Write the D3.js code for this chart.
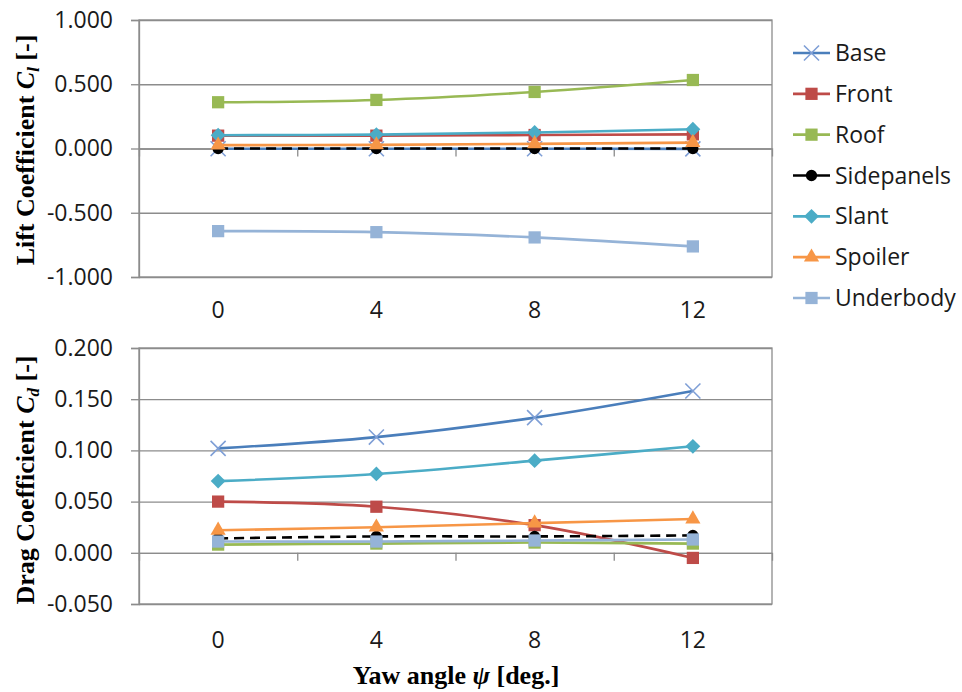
<!DOCTYPE html>
<html>
<head>
<meta charset="utf-8">
<script src="https://cdn.jsdelivr.net/npm/d3@7"></script>
<style>
  body { margin: 0; background: #fff; }
  text { font-family: "Open Sans", "Liberation Sans", sans-serif; }
  .title { font-family: "Liberation Serif", "DejaVu Serif", serif; font-weight: bold; }
</style>
</head>
<body>
<div id="wrapper"></div>
<script>
// yaw angles (categories)
const yawLabels = ["0", "4", "8", "12"];
const seriesNames = ["Base", "Front", "Roof", "Sidepanels", "Slant", "Spoiler", "Underbody"];

// lift coefficient per series
const liftBase = [-0.002, -0.002, -0.002, -0.003];
const liftFront = [0.100, 0.100, 0.105, 0.110];
const liftRoof = [0.360, 0.378, 0.440, 0.533];
const liftSidepanels = [0.000, 0.000, 0.000, 0.000];
const liftSlant = [0.103, 0.108, 0.125, 0.150];
const liftSpoiler = [0.026, 0.028, 0.036, 0.046];
const liftUnderbody = [-0.643, -0.651, -0.692, -0.762];

// drag coefficient per series
const dragBase = [0.102, 0.113, 0.132, 0.158];
const dragFront = [0.050, 0.045, 0.027, -0.005];
const dragRoof = [0.008, 0.009, 0.010, 0.009];
const dragSidepanels = [0.014, 0.016, 0.016, 0.017];
const dragSlant = [0.070, 0.077, 0.090, 0.104];
const dragSpoiler = [0.022, 0.025, 0.029, 0.033];
const dragUnderbody = [0.011, 0.011, 0.012, 0.013];

// y tick values
const liftTicks = [-1, -0.5, 0, 0.5, 1];
const dragTicks = [-0.05, 0, 0.05, 0.1, 0.15, 0.2];

const styles = {
    Base:       { line: "#4A7EBB", marker: "#7F9FD6", shape: "x" },
    Front:      { line: "#BE4B48", marker: "#BE4B48", shape: "square" },
    Roof:       { line: "#98B954", marker: "#98B954", shape: "square" },
    Sidepanels: { line: "#000000", marker: "#000000", shape: "circle", dash: "10,6" },
    Slant:      { line: "#4BACC6", marker: "#4BACC6", shape: "diamond" },
    Spoiler:    { line: "#F79646", marker: "#F79646", shape: "triangle" },
    Underbody:  { line: "#95B3D7", marker: "#95B3D7", shape: "square" },
};

const liftSeries = [liftBase, liftFront, liftRoof, liftSidepanels, liftSlant, liftSpoiler, liftUnderbody];
const dragSeries = [dragBase, dragFront, dragRoof, dragSidepanels, dragSlant, dragSpoiler, dragUnderbody];

const dimensions = { width: 962, height: 692, plotLeft: 139, plotRight: 772 };
const gridColor = "#8c8c8c";

const panels = [
    { series: liftSeries, ticks: liftTicks, domain: [-1, 1], top: 20, bottom: 277, labelPad: 25,
      titleMain: "Lift Coefficient ", titleSub: "l", titleY: 150 },
    { series: dragSeries, ticks: dragTicks, domain: [-0.05, 0.2], top: 348, bottom: 604, labelPad: 28,
      titleMain: "Drag Coefficient ", titleSub: "d", titleY: 480 },
];

const wrapper = d3.select("#wrapper")
    .append("svg")
    .attr("width", dimensions.width)
    .attr("height", dimensions.height);

wrapper.append("rect").attr("width", dimensions.width).attr("height", dimensions.height).attr("fill", "#fff");

const xScale = d3.scaleBand()
    .domain(yawLabels)
    .range([dimensions.plotLeft, dimensions.plotRight])
    .padding(0);
const xCenter = (i) => xScale(yawLabels[i]) + xScale.bandwidth() / 2;

function drawMarker(g, shape, x, y, color) {
    if (shape === "x") {
        g.append("path")
            .attr("d", d3.symbol(d3.symbolTimes, 150)())
            .attr("transform", `translate(${x},${y})`)
            .attr("fill", "none").attr("stroke", color).attr("stroke-width", 1.6);
        return;
    }
    let sym, size, rot = 0;
    if (shape === "square") { sym = d3.symbolSquare; size = 150; }
    if (shape === "circle") { sym = d3.symbolCircle; size = 100; }
    if (shape === "diamond") { sym = d3.symbolSquare; size = 110; rot = 45; }
    if (shape === "triangle") { sym = d3.symbolTriangle; size = 100; }
    g.append("path")
        .attr("d", d3.symbol(sym, size)())
        .attr("transform", `translate(${x},${y}) rotate(${rot})`)
        .attr("fill", color);
}

panels.forEach((p) => {
    const yScale = d3.scaleLinear().domain(p.domain).range([p.bottom, p.top]);
    const bounds = wrapper.append("g");
    const w = dimensions.plotRight - dimensions.plotLeft;

    // gridlines
    bounds.append("g")
        .attr("transform", `translate(${dimensions.plotLeft},0)`)
        .call(d3.axisLeft(yScale).tickValues(p.ticks).tickSize(-w).tickFormat(""))
        .call((g) => g.select(".domain").remove())
        .call((g) => g.selectAll("line").attr("stroke", gridColor).attr("stroke-width", 1.3));

    // plot border
    bounds.append("rect")
        .attr("x", dimensions.plotLeft).attr("y", p.top)
        .attr("width", w).attr("height", p.bottom - p.top)
        .attr("fill", "none").attr("stroke", gridColor).attr("stroke-width", 1.3);

    // y axis with outer ticks + labels
    const yAxis = bounds.append("g")
        .attr("transform", `translate(${dimensions.plotLeft},0)`)
        .call(d3.axisLeft(yScale).tickValues(p.ticks).tickSize(8).tickPadding(18)
            .tickFormat((d) => d.toFixed(3)));
    yAxis.select(".domain").attr("stroke", gridColor).attr("stroke-width", 1.3);
    yAxis.selectAll("line").attr("stroke", gridColor).attr("stroke-width", 1.3);
    yAxis.selectAll("text").attr("font-size", 23).attr("fill", "#1a1a1a")
        .attr("font-family", "'Open Sans', sans-serif");

    // category tick marks on zero line
    const boundaryScale = d3.scaleLinear().domain([0, yawLabels.length])
        .range([dimensions.plotLeft, dimensions.plotRight]);
    const zeroAxis = bounds.append("g")
        .attr("transform", `translate(0,${yScale(0)})`)
        .call(d3.axisBottom(boundaryScale).tickValues(d3.range(1, yawLabels.length)).tickSize(8).tickFormat(""));
    zeroAxis.select(".domain").attr("stroke", gridColor).attr("stroke-width", 1.3);
    zeroAxis.selectAll("line").attr("stroke", gridColor).attr("stroke-width", 1.3);

    // category labels under plot
    const xAxis = bounds.append("g")
        .attr("transform", `translate(0,${p.bottom})`)
        .call(d3.axisBottom(xScale).tickSize(0).tickPadding(p.labelPad));
    xAxis.select(".domain").remove();
    xAxis.selectAll("text").attr("font-size", 23).attr("fill", "#1a1a1a")
        .attr("font-family", "'Open Sans', sans-serif");

    // series
    const lineGenerator = d3.line()
        .x((d, i) => xCenter(i))
        .y((d) => yScale(d))
        .curve(d3.curveCatmullRom.alpha(0.5));

    p.series.forEach((values, si) => {
        const st = styles[seriesNames[si]];
        bounds.append("path")
            .attr("d", lineGenerator(values))
            .attr("fill", "none")
            .attr("stroke", st.line)
            .attr("stroke-width", 2.6)
            .attr("stroke-dasharray", st.dash || null);
        values.forEach((v, i) => drawMarker(bounds, st.shape, xCenter(i), yScale(v), st.marker));
    });

    // y title
    const t = wrapper.append("text")
        .attr("class", "title")
        .attr("font-size", 26)
        .attr("text-anchor", "middle")
        .attr("transform", `translate(34,${p.titleY}) rotate(-90)`);
    t.append("tspan").text(p.titleMain);
    t.append("tspan").attr("font-style", "italic").text("C");
    t.append("tspan").attr("font-style", "italic").attr("font-size", 17).attr("dy", 5).text(p.titleSub);
    t.append("tspan").attr("dy", -5).text(" [-]");
});

// x title
const xt = wrapper.append("text")
    .attr("class", "title")
    .attr("font-size", 26)
    .attr("text-anchor", "middle")
    .attr("x", 456).attr("y", 684);
xt.append("tspan").text("Yaw angle ");
xt.append("tspan").attr("font-style", "italic").text("ψ");
xt.append("tspan").text(" [deg.]");

// legend
const legend = wrapper.append("g");
const legendY = d3.scaleLinear().domain([0, seriesNames.length - 1]).range([53, 298]);
seriesNames.forEach((name, i) => {
    const st = styles[name];
    const y = legendY(i);
    legend.append("line")
        .attr("x1", 793).attr("x2", 830).attr("y1", y).attr("y2", y)
        .attr("stroke", st.line).attr("stroke-width", 2.6);
    drawMarker(legend, st.shape, 811.5, y, st.marker);
    legend.append("text")
        .attr("x", 835).attr("y", y).attr("dy", "0.35em")
        .attr("font-size", 23).attr("fill", "#1a1a1a")
        .text(name);
});
</script>
</body>
</html>
